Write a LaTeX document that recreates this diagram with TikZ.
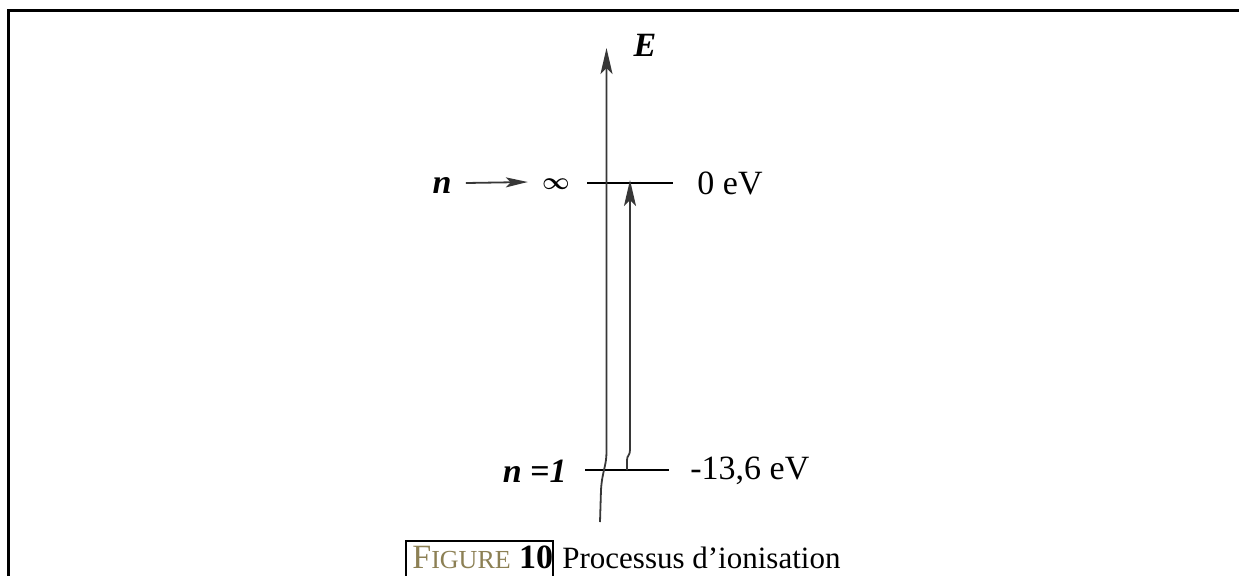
\documentclass[tikz,border=0pt]{standalone}
\usepackage{amsmath,amssymb}
\usepackage{fontspec}
\setmainfont{Liberation Serif}
\usepackage{xcolor}
\usetikzlibrary{arrows.meta,positioning,calc}
\definecolor{figolive}{RGB}{140,128,84}
\definecolor{inkgray}{RGB}{55,55,55}
\tikzset{>={Stealth[length=13pt,width=6pt,inset=3pt]}}
\tikzset{font=\fontsize{17}{20}\selectfont}
\tikzset{axisline/.style={draw=inkgray, line width=0.9pt},
  levelline/.style={draw=black, line width=1pt},
  lbl/.style={inner sep=0pt, text=black}}

\begin{document}
\begin{tikzpicture}[x=0.5pt,y=-0.5pt]
          \useasboundingbox (0,0) rectangle (1239,575);
          % frame of the page
          \draw[line width=1.5pt] (8,580) |- (1245,10);
          % energy levels
          \coordinate (infL) at (587,183);
          \coordinate (infR) at (673,183);
          \coordinate (oneL) at (585,470);
          \coordinate (oneR) at (669,470);
          \draw[levelline] (infL) -- (infR);
          \draw[levelline] (oneL) -- (oneR);
          % energy axis
          \coordinate (axbot) at (600,522);
          \coordinate (axtop) at (606.5,48);
          \draw[axisline,->] (axbot) -- (601,490)
            .. controls (602,472) and (606.5,466) .. (606.5,452) -- (axtop);
          \node[lbl, font=\fontsize{17}{20}\selectfont\bfseries\itshape] (E) at (645,45) {E};
          % ionisation arrow
          \coordinate (ionbot) at (627,470);
          \coordinate (iontop) at (630,180);
          \draw[axisline,->] (ionbot) -- (627,460)
            .. controls (627,455) and (630,456) .. (630,450) -- (iontop);
          % labels
          \node[lbl, font=\fontsize{17}{20}\selectfont\bfseries\itshape] (n0) at (442,185) {n};
          \node[lbl, font=\fontsize{12}{14}\selectfont] (inf) at (556,184) {$\boldsymbol{\infty}$};
          \draw[line width=0.9pt, draw=inkgray, -{Stealth[length=11pt,width=5pt,inset=2.5pt]}] ($(n0.east)+(14,-2)$) -- ($(inf.west)+(-14,-2)$);
          \node[lbl, anchor=west] (zero) at (697,183) {0 eV};
          \node[lbl, anchor=east, font=\fontsize{17}{20}\selectfont\bfseries\itshape] (none) at (567,471) {n =1};
          \node[lbl, anchor=west] (ground) at (690,471) {-13,6 eV};
          % caption
          \node[lbl, anchor=base west] (figlbl) at (412,568)
            {\textcolor{figolive}{F{\fontsize{13}{16}\selectfont IGURE}} \textbf{10}};
          \draw[line width=1.2pt] (406,580) |- (553,541) -- (553,580);
          \node[lbl, anchor=base west, font=\fontsize{15.5}{18}\selectfont] (figtxt) at (562,568) {Processus d’ionisation};
\end{tikzpicture}
\end{document}
